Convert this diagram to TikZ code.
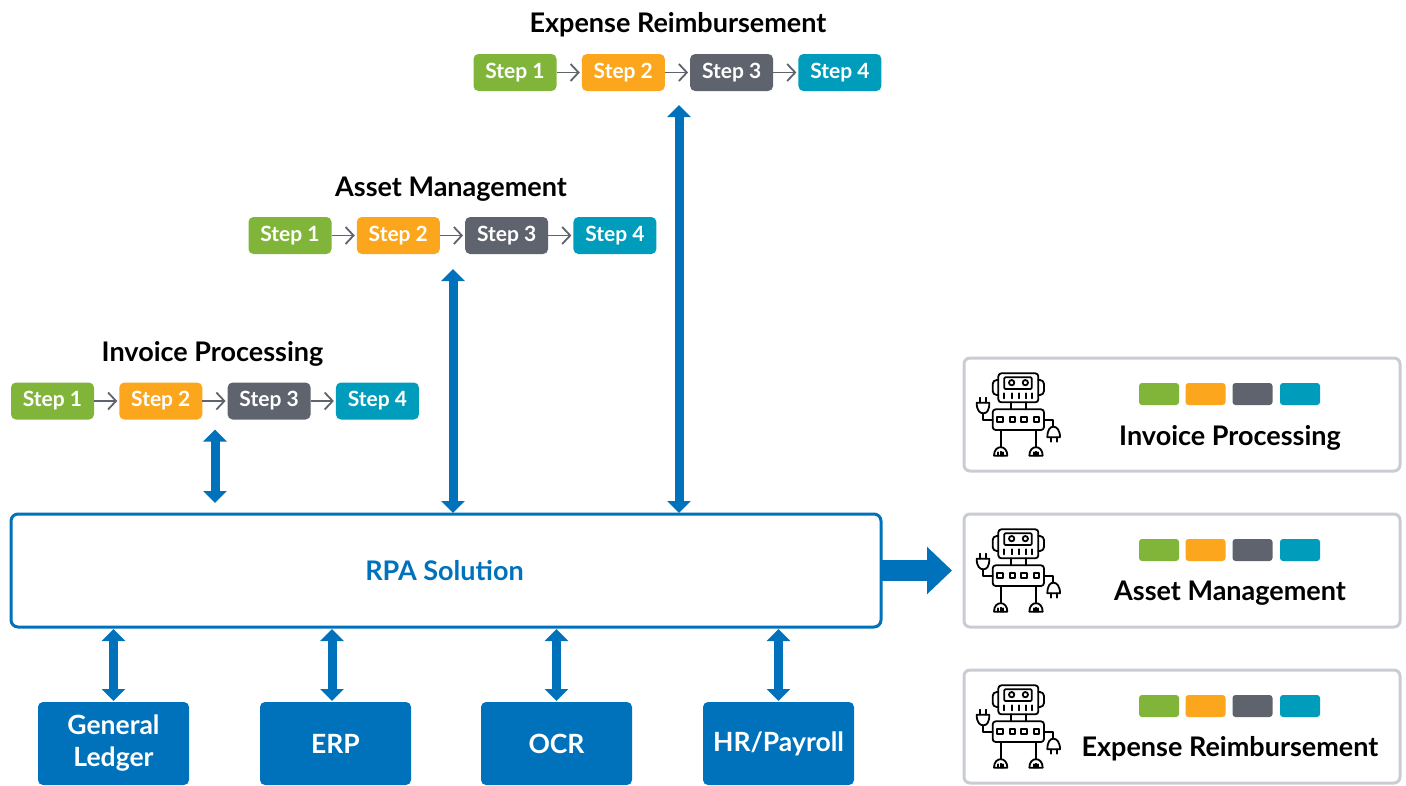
\documentclass[tikz,border=0pt]{standalone}
\usepackage{fontspec}
\setmainfont{Lato}
\usepackage{tikz}
\usetikzlibrary{arrows.meta,positioning}

\definecolor{rpablue}{HTML}{0072BC}
\definecolor{stepgreen}{HTML}{80B539}
\definecolor{steporange}{HTML}{FBA61C}
\definecolor{stepgray}{HTML}{5F636D}
\definecolor{stepteal}{HTML}{009CBB}
\definecolor{cardgray}{HTML}{C9CCD3}

\tikzset{
  stepbox/.style={rounded corners=5pt, minimum width=83pt, minimum height=37pt, inner sep=0pt, outer sep=0pt,
    text=white, font=\fontsize{21}{24}\selectfont\bfseries},
  swatch/.style={rounded corners=3pt, minimum width=40pt, minimum height=22pt, inner sep=0pt, outer sep=0pt},
  title/.style={font=\fontsize{27}{30}\selectfont\bfseries, text=black, inner sep=0pt},
  sysbox/.style={fill=rpablue, rounded corners=5pt, minimum width=151pt, minimum height=83pt, inner sep=0pt, outer sep=0pt,
    text=white, align=center, font=\fontsize{26.5}{32}\selectfont\bfseries},
  card/.style={draw=cardgray, line width=3pt, fill=white, rounded corners=6pt, minimum width=436pt, minimum height=113pt, inner sep=0pt, outer sep=0pt},
  flow/.style={draw=stepgray, line width=1.8pt, -{Straight Barb[length=8pt,width=17pt]}, shorten >=2pt},
  dblarrow/.style={draw=rpablue, line width=9pt, {Triangle[length=12pt,width=23pt]}-{Triangle[length=12pt,width=23pt]}},
  bigarrow/.style={draw=rpablue, line width=21pt, -{Triangle[length=25pt,width=46pt]}, shorten >=12pt},
  robot/.pic={
    \begin{scope}[scale=1/3, line width=1.8pt, draw=black, line cap=round, line join=round]
      \draw[rounded corners=3pt] (115,70) rectangle (235,157);
      \draw[rounded corners=1pt] (133,82) rectangle (215,117);
      \draw (155,98) circle (8) (196,98) circle (8);
      \draw (133,130) -- (133,145) (155,130) -- (155,145) (177,130) -- (177,145) (197,130) -- (197,145) (215,130) -- (215,145);
      \draw[rounded corners=4pt] (115,90) -- (98,90) -- (98,135) -- (115,135);
      \draw[rounded corners=4pt] (235,90) -- (252,90) -- (252,135) -- (235,135);
      \draw (152,157) -- (152,178) (198,157) -- (198,178);
      \draw[rounded corners=3pt] (98,178) rectangle (252,240);
      \draw (112,200) rectangle (128,216) (149,200) rectangle (165,216) (184,200) rectangle (200,216) (221,200) rectangle (237,216);
      \draw (122,240) -- (122,292) (228,240) -- (228,292);
      \draw (102,317) -- (142,317) (102,317) .. controls (102,283) and (142,283) .. (142,317);
      \draw (208,317) -- (248,317) (208,317) .. controls (208,283) and (248,283) .. (248,317);
      \draw (115,317) -- (115,307) (122,317) -- (122,305) (129,317) -- (129,307);
      \draw (221,317) -- (221,307) (228,317) -- (228,305) (235,317) -- (235,307);
      % plug on the left
      \draw (98,210) -- (70,210) -- (70,190);
      \draw (50,158) -- (88,158) (50,158) .. controls (50,182) and (60,190) .. (70,190) .. controls (80,190) and (88,182) .. (88,158);
      \draw (60,143) -- (60,158) (78,143) -- (78,158);
      % plug on the right
      \draw (252,210) -- (280,210) -- (280,230);
      \draw (262,262) -- (300,262) (262,262) .. controls (262,240) and (270,230) .. (280,230) .. controls (290,230) and (300,240) .. (300,262);
      \draw (272,262) -- (272,275) (290,262) -- (290,275);
    \end{scope}
  }
}

\begin{document}
\begin{tikzpicture}[x=1pt, y=-1pt, node distance=108.3pt]
  \useasboundingbox (0,0) rectangle (1406,785);

  % process rows
  \node[title] (invtitle) at (212.5,353.5) {Invoice Processing};
  \node[stepbox, fill=stepgreen] (inv1) at (52.5,401) {Step 1};
  \node[stepbox, fill=steporange] (inv2) [right of=inv1] {Step 2};
  \node[stepbox, fill=stepgray] (inv3) [right of=inv2] {Step 3};
  \node[stepbox, fill=stepteal] (inv4) [right of=inv3] {Step 4};

  \node[title] (asttitle) at (451,189) {Asset Management};
  \node[stepbox, fill=stepgreen] (ast1) at (290,235.5) {Step 1};
  \node[stepbox, fill=steporange] (ast2) [right of=ast1] {Step 2};
  \node[stepbox, fill=stepgray] (ast3) [right of=ast2] {Step 3};
  \node[stepbox, fill=stepteal] (ast4) [right of=ast3] {Step 4};

  \node[title] (exptitle) at (678,25) {Expense Reimbursement};
  \node[stepbox, fill=stepgreen] (exp1) at (515,72.5) {Step 1};
  \node[stepbox, fill=steporange] (exp2) [right of=exp1] {Step 2};
  \node[stepbox, fill=stepgray] (exp3) [right of=exp2] {Step 3};
  \node[stepbox, fill=stepteal] (exp4) [right of=exp3] {Step 4};

  \draw[flow] (inv1) -- (inv2);
  \draw[flow] (inv2) -- (inv3);
  \draw[flow] (inv3) -- (inv4);
  \draw[flow] (ast1) -- (ast2);
  \draw[flow] (ast2) -- (ast3);
  \draw[flow] (ast3) -- (ast4);
  \draw[flow] (exp1) -- (exp2);
  \draw[flow] (exp2) -- (exp3);
  \draw[flow] (exp3) -- (exp4);

  % solution and systems
  \node[draw=rpablue, line width=3pt, rounded corners=7pt, minimum width=870pt, minimum height=113pt, inner sep=0pt, outer sep=0pt] (rpa) at (446,570.5) {};
  \node[text=rpablue, font=\fontsize{27}{30}\selectfont\bfseries, inner sep=0pt] (rpatext) at (444.5,571) {RPA Solution};

  \node[sysbox] (gl) at (113.5,743.5) {General\\Ledger};
  \node[sysbox] (erp) at (335.5,743.5) {ERP};
  \node[sysbox] (ocr) at (556.5,743.5) {OCR};
  \node[sysbox] (hr) at (778.5,743.5) {HR/Payroll};

  \coordinate (invx) at (215,0);
  \coordinate (astx) at (453,0);
  \coordinate (expx) at (679,0);
  \coordinate (erpx) at (332,0);
  \draw[dblarrow, shorten <=10pt, shorten >=11pt] (invx |- inv2.south) -- (invx |- rpa.north);
  \draw[dblarrow, shorten <=15pt, shorten >=1pt] (astx |- ast2.south) -- (astx |- rpa.north);
  \draw[dblarrow, shorten <=14pt, shorten >=1pt] (expx |- exp3.south) -- (expx |- rpa.north);
  \draw[dblarrow, shorten <=2pt, shorten >=1pt] (gl.north |- rpa.south) -- (gl.north);
  \draw[dblarrow, shorten <=2pt, shorten >=1pt] (erpx |- rpa.south) -- (erpx |- erp.north);
  \draw[dblarrow, shorten <=2pt, shorten >=1pt] (ocr.north |- rpa.south) -- (ocr.north);
  \draw[dblarrow, shorten <=2pt, shorten >=1pt] (hr.north |- rpa.south) -- (hr.north);

  % robot cards
  \node[card] (carda) at (1182,414.5) {};
  \node[card] (cardb) at (1182,570.5) {};
  \node[card] (cardc) at (1182,726.5) {};
  \draw[bigarrow] (rpa.east) -- (cardb.west);

  \pic at (960,350) {robot};
  \pic at (960,506) {robot};
  \pic at (960,662) {robot};

  \node[swatch, fill=stepgreen] (a1) at (1159,394) {};
  \node[swatch, fill=steporange] (a2) at (1205.5,394) {};
  \node[swatch, fill=stepgray] (a3) at (1252.5,394) {};
  \node[swatch, fill=stepteal] (a4) at (1300,394) {};
  \node[title] (alabel) at (1230,437.5) {Invoice Processing};

  \node[swatch, fill=stepgreen] (b1) at (1159,550) {};
  \node[swatch, fill=steporange] (b2) at (1205.5,550) {};
  \node[swatch, fill=stepgray] (b3) at (1252.5,550) {};
  \node[swatch, fill=stepteal] (b4) at (1300,550) {};
  \node[title] (blabel) at (1230,593) {Asset Management};

  \node[swatch, fill=stepgreen] (c1) at (1159,706) {};
  \node[swatch, fill=steporange] (c2) at (1205.5,706) {};
  \node[swatch, fill=stepgray] (c3) at (1252.5,706) {};
  \node[swatch, fill=stepteal] (c4) at (1300,706) {};
  \node[title] (clabel) at (1230,749) {Expense Reimbursement};
\end{tikzpicture}
\end{document}
